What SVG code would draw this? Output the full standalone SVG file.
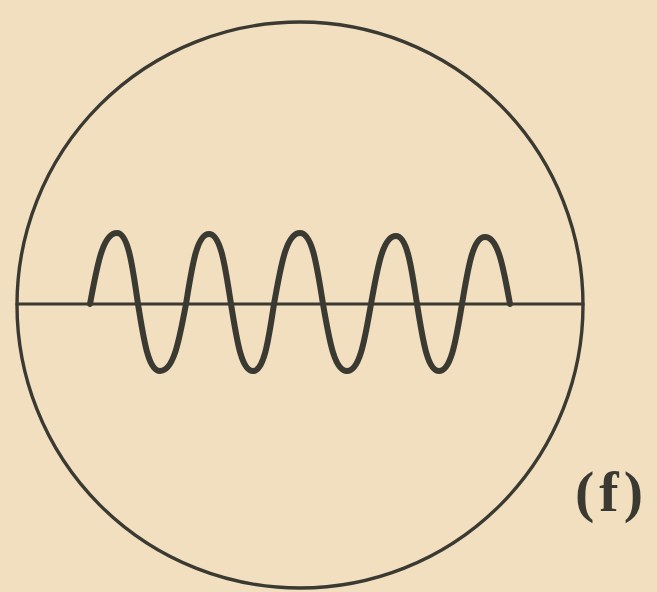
<svg xmlns="http://www.w3.org/2000/svg" width="657" height="592" viewBox="0 0 657 592">
<style>
.ink{fill:none;stroke:#3b3a32;stroke-linecap:round;stroke-linejoin:round}
.lbl{font-family:"Liberation Serif","DejaVu Serif",serif;font-weight:bold;fill:#3b3a32}
</style>
<rect width="657" height="592" fill="#f1dfbf"/>
<g id="circle"><ellipse class="ink" cx="300" cy="305" rx="283" ry="283" stroke-width="3.4"/></g>
<g id="axis"><line class="ink" x1="17" y1="304" x2="583" y2="304" stroke-width="3.2"/></g>
<g id="wave">
<path class="ink" stroke-width="6" d="M90,304 C96.75,268.5 102.15,233 117,233 C128.55,233 132.75,268.5 138,304 C143.5,337.5 147.9,371 160,371 C174.3,371 179.5,337.5 186,304 C191.75,269 196.35,234 209,234 C221.1,234 225.5,269 231,304 C236.5,337.5 240.9,371 253,371 C264.55,371 268.75,337.5 274,304 C280.5,268.5 285.7,233 300,233 C312.65,233 317.25,268.5 323,304 C329,337.5 333.8,371 347,371 C360.2,371 365,337.5 371,304 C377.25,270 382.25,236 396,236 C407.55,236 411.75,270 417,304 C422.5,337.5 426.9,371 439,371 C451.65,371 456.25,337.5 462,304 C467.75,270.5 472.35,237 485,237 C498.75,237 503.75,270.5 510,304"/>
</g>
<g id="label"><text class="lbl" x="575" y="511" font-size="58" textLength="68" lengthAdjust="spacing">(f)</text></g>
</svg>
